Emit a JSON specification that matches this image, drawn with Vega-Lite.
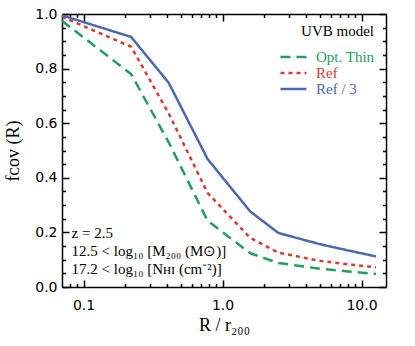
{
  "$schema": "https://vega.github.io/schema/vega-lite/v6.json",
  "width": 324,
  "height": 273,
  "autosize": "none",
  "padding": {"left": 62, "top": 14, "right": 29, "bottom": 59},
  "background": "white",
  "config": {
    "view": {"stroke": null},
    "axis": {"domainColor": "black", "tickColor": "black", "domainWidth": 1.5, "tickWidth": 1.5, "grid": false, "labelColor": "black", "titleColor": "black"}
  },
  "data": {"values": [
    {"series": "Opt. Thin", "R": 0.07, "f": 0.975},
    {"series": "Opt. Thin", "R": 0.22, "f": 0.78},
    {"series": "Opt. Thin", "R": 0.41, "f": 0.53},
    {"series": "Opt. Thin", "R": 0.78, "f": 0.243},
    {"series": "Opt. Thin", "R": 1.58, "f": 0.124},
    {"series": "Opt. Thin", "R": 2.52, "f": 0.088},
    {"series": "Opt. Thin", "R": 5.0, "f": 0.067},
    {"series": "Opt. Thin", "R": 8.0, "f": 0.057},
    {"series": "Opt. Thin", "R": 12.7, "f": 0.048},
    {"series": "Ref", "R": 0.07, "f": 0.99},
    {"series": "Ref", "R": 0.22, "f": 0.88},
    {"series": "Ref", "R": 0.41, "f": 0.636},
    {"series": "Ref", "R": 0.78, "f": 0.345},
    {"series": "Ref", "R": 1.58, "f": 0.18},
    {"series": "Ref", "R": 2.52, "f": 0.126},
    {"series": "Ref", "R": 5.0, "f": 0.096},
    {"series": "Ref", "R": 8.0, "f": 0.083},
    {"series": "Ref", "R": 12.7, "f": 0.072},
    {"series": "Ref / 3", "R": 0.07, "f": 0.995},
    {"series": "Ref / 3", "R": 0.22, "f": 0.916},
    {"series": "Ref / 3", "R": 0.41, "f": 0.748},
    {"series": "Ref / 3", "R": 0.78, "f": 0.469},
    {"series": "Ref / 3", "R": 1.58, "f": 0.277},
    {"series": "Ref / 3", "R": 2.52, "f": 0.198},
    {"series": "Ref / 3", "R": 5.0, "f": 0.157},
    {"series": "Ref / 3", "R": 8.0, "f": 0.134},
    {"series": "Ref / 3", "R": 12.7, "f": 0.112}
  ]},
  "layer": [
    {
      "mark": {"type": "line", "strokeWidth": 2.5},
      "encoding": {
        "x": {"field": "R", "type": "quantitative", "scale": {"type": "log", "domain": [0.07, 15], "nice": false},
          "axis": {"orient": "bottom", "values": [0.1, 1, 10], "format": ".1f", "labelFont": "DejaVu Sans", "labelFontSize": 14, "ticks": false, "labelPadding": 11, "labelFlush": false,
            "title": "R / r₂₀₀", "titleFont": "Liberation Serif", "titleFontSize": 18, "titleFontWeight": "normal", "titlePadding": 4}},
        "y": {"field": "f", "type": "quantitative", "scale": {"domain": [0, 1], "nice": false},
          "axis": {"orient": "left", "values": [0, 0.2, 0.4, 0.6, 0.8, 1.0], "format": ".1f", "labelFont": "DejaVu Sans", "labelFontSize": 14, "ticks": false, "labelPadding": 5, "labelFlush": false,
            "title": "fᴄᴏᴠ (R)", "titleFont": "Liberation Serif", "titleFontSize": 18, "titleFontWeight": "normal", "titlePadding": 12}},
        "color": {"field": "series", "type": "nominal",
          "scale": {"domain": ["Opt. Thin", "Ref", "Ref / 3"], "range": ["#1f9e5c", "#d63b2f", "#4a69b0"]},
          "legend": {"orient": "none", "legendX": 217, "legendY": 10, "title": "UVB model", "titleFont": "Liberation Serif", "titleFontSize": 15, "titleFontWeight": "normal", "titleColor": "black", "titleAnchor": "end", "titlePadding": 10,
            "labelFont": "Liberation Serif", "labelFontSize": 15, "symbolType": "stroke", "symbolSize": 676, "symbolStrokeWidth": 2.5, "labelOffset": 8, "rowPadding": 0, "clipHeight": 16,
            "encode": {"labels": {"update": {"fill": {"scale": "color", "field": "value"}}}}}},
        "strokeDash": {"field": "series", "type": "nominal",
          "scale": {"domain": ["Opt. Thin", "Ref", "Ref / 3"], "range": [[10, 6], [4, 4], [1, 0]]},
          "legend": {"orient": "none", "legendX": 217, "legendY": 10, "title": "UVB model", "titleFont": "Liberation Serif", "titleFontSize": 15, "titleFontWeight": "normal", "titleColor": "black", "titleAnchor": "end", "titlePadding": 10,
            "labelFont": "Liberation Serif", "labelFontSize": 15, "symbolType": "stroke", "symbolSize": 676, "symbolStrokeWidth": 2.5, "labelOffset": 8, "rowPadding": 0, "clipHeight": 16,
            "encode": {"labels": {"update": {"fill": {"scale": "color", "field": "value"}}}}}}
      }
    },
    {
      "mark": {"type": "line", "strokeOpacity": 0},
      "encoding": {
        "x": {"field": "R", "type": "quantitative", "scale": {"type": "log", "domain": [0.07, 15], "nice": false},
          "axis": {"orient": "top", "offset": -273, "domain": false, "values": [0.1, 1, 10], "labels": false, "tickSize": 7, "title": null}},
        "y": {"field": "f", "type": "quantitative", "scale": {"domain": [0, 1], "nice": false},
          "axis": {"orient": "right", "offset": -324, "domain": false, "values": [0, 0.2, 0.4, 0.6, 0.8, 1.0], "labels": false, "tickSize": 7, "title": null}},
        "detail": {"field": "series"}
      }
    },
    {
      "mark": {"type": "line", "strokeOpacity": 0},
      "encoding": {
        "x": {"field": "R", "type": "quantitative", "scale": {"type": "log", "domain": [0.07, 15], "nice": false},
          "axis": {"orient": "top", "offset": -273, "domain": false, "values": [0.08, 0.09, 0.2, 0.3, 0.4, 0.5, 0.6, 0.7, 0.8, 0.9, 2, 3, 4, 5, 6, 7, 8, 9], "labels": false, "tickSize": 3.5, "title": null}},
        "y": {"field": "f", "type": "quantitative", "scale": {"domain": [0, 1], "nice": false},
          "axis": {"orient": "right", "offset": -324, "domain": false, "values": [0.05, 0.1, 0.15, 0.25, 0.3, 0.35, 0.45, 0.5, 0.55, 0.65, 0.7, 0.75, 0.85, 0.9, 0.95], "labels": false, "tickSize": 3.5, "title": null}},
        "detail": {"field": "series"}
      }
    },
    {
      "mark": {"type": "line", "strokeOpacity": 0},
      "encoding": {
        "x": {"field": "R", "type": "quantitative", "scale": {"type": "log", "domain": [0.07, 15], "nice": false},
          "axis": {"orient": "bottom", "offset": -273, "values": [0.1, 1, 10], "labels": false, "tickSize": 7, "title": null}},
        "y": {"field": "f", "type": "quantitative", "scale": {"domain": [0, 1], "nice": false},
          "axis": {"orient": "left", "offset": -324, "values": [0, 0.2, 0.4, 0.6, 0.8, 1.0], "labels": false, "tickSize": 7, "title": null}},
        "detail": {"field": "series"}
      }
    },
    {
      "mark": {"type": "line", "strokeOpacity": 0},
      "encoding": {
        "x": {"field": "R", "type": "quantitative", "scale": {"type": "log", "domain": [0.07, 15], "nice": false},
          "axis": {"orient": "bottom", "offset": -273, "domain": false, "values": [0.08, 0.09, 0.2, 0.3, 0.4, 0.5, 0.6, 0.7, 0.8, 0.9, 2, 3, 4, 5, 6, 7, 8, 9], "labels": false, "tickSize": 3.5, "title": null}},
        "y": {"field": "f", "type": "quantitative", "scale": {"domain": [0, 1], "nice": false},
          "axis": {"orient": "left", "offset": -324, "domain": false, "values": [0.05, 0.1, 0.15, 0.25, 0.3, 0.35, 0.45, 0.5, 0.55, 0.65, 0.7, 0.75, 0.85, 0.9, 0.95], "labels": false, "tickSize": 3.5, "title": null}},
        "detail": {"field": "series"}
      }
    },
    {
      "data": {"values": [{}]},
      "mark": {"type": "text", "align": "left", "baseline": "middle", "font": "Liberation Serif", "fontSize": 15, "lineHeight": 18, "color": "black",
        "text": ["\u00a0\u00a0z = 2.5", "12.5 < log₁₀ [M₂₀₀ (M⊙)]", "17.2 < log₁₀ [Nʜɪ (cm⁻²)]"]},
      "encoding": {
        "x": {"datum": 0.082, "type": "quantitative", "axis": null},
        "y": {"datum": 0.198, "type": "quantitative", "axis": null}
      }
    }
  ],
  "resolve": {"axis": {"x": "independent", "y": "independent"}}
}
